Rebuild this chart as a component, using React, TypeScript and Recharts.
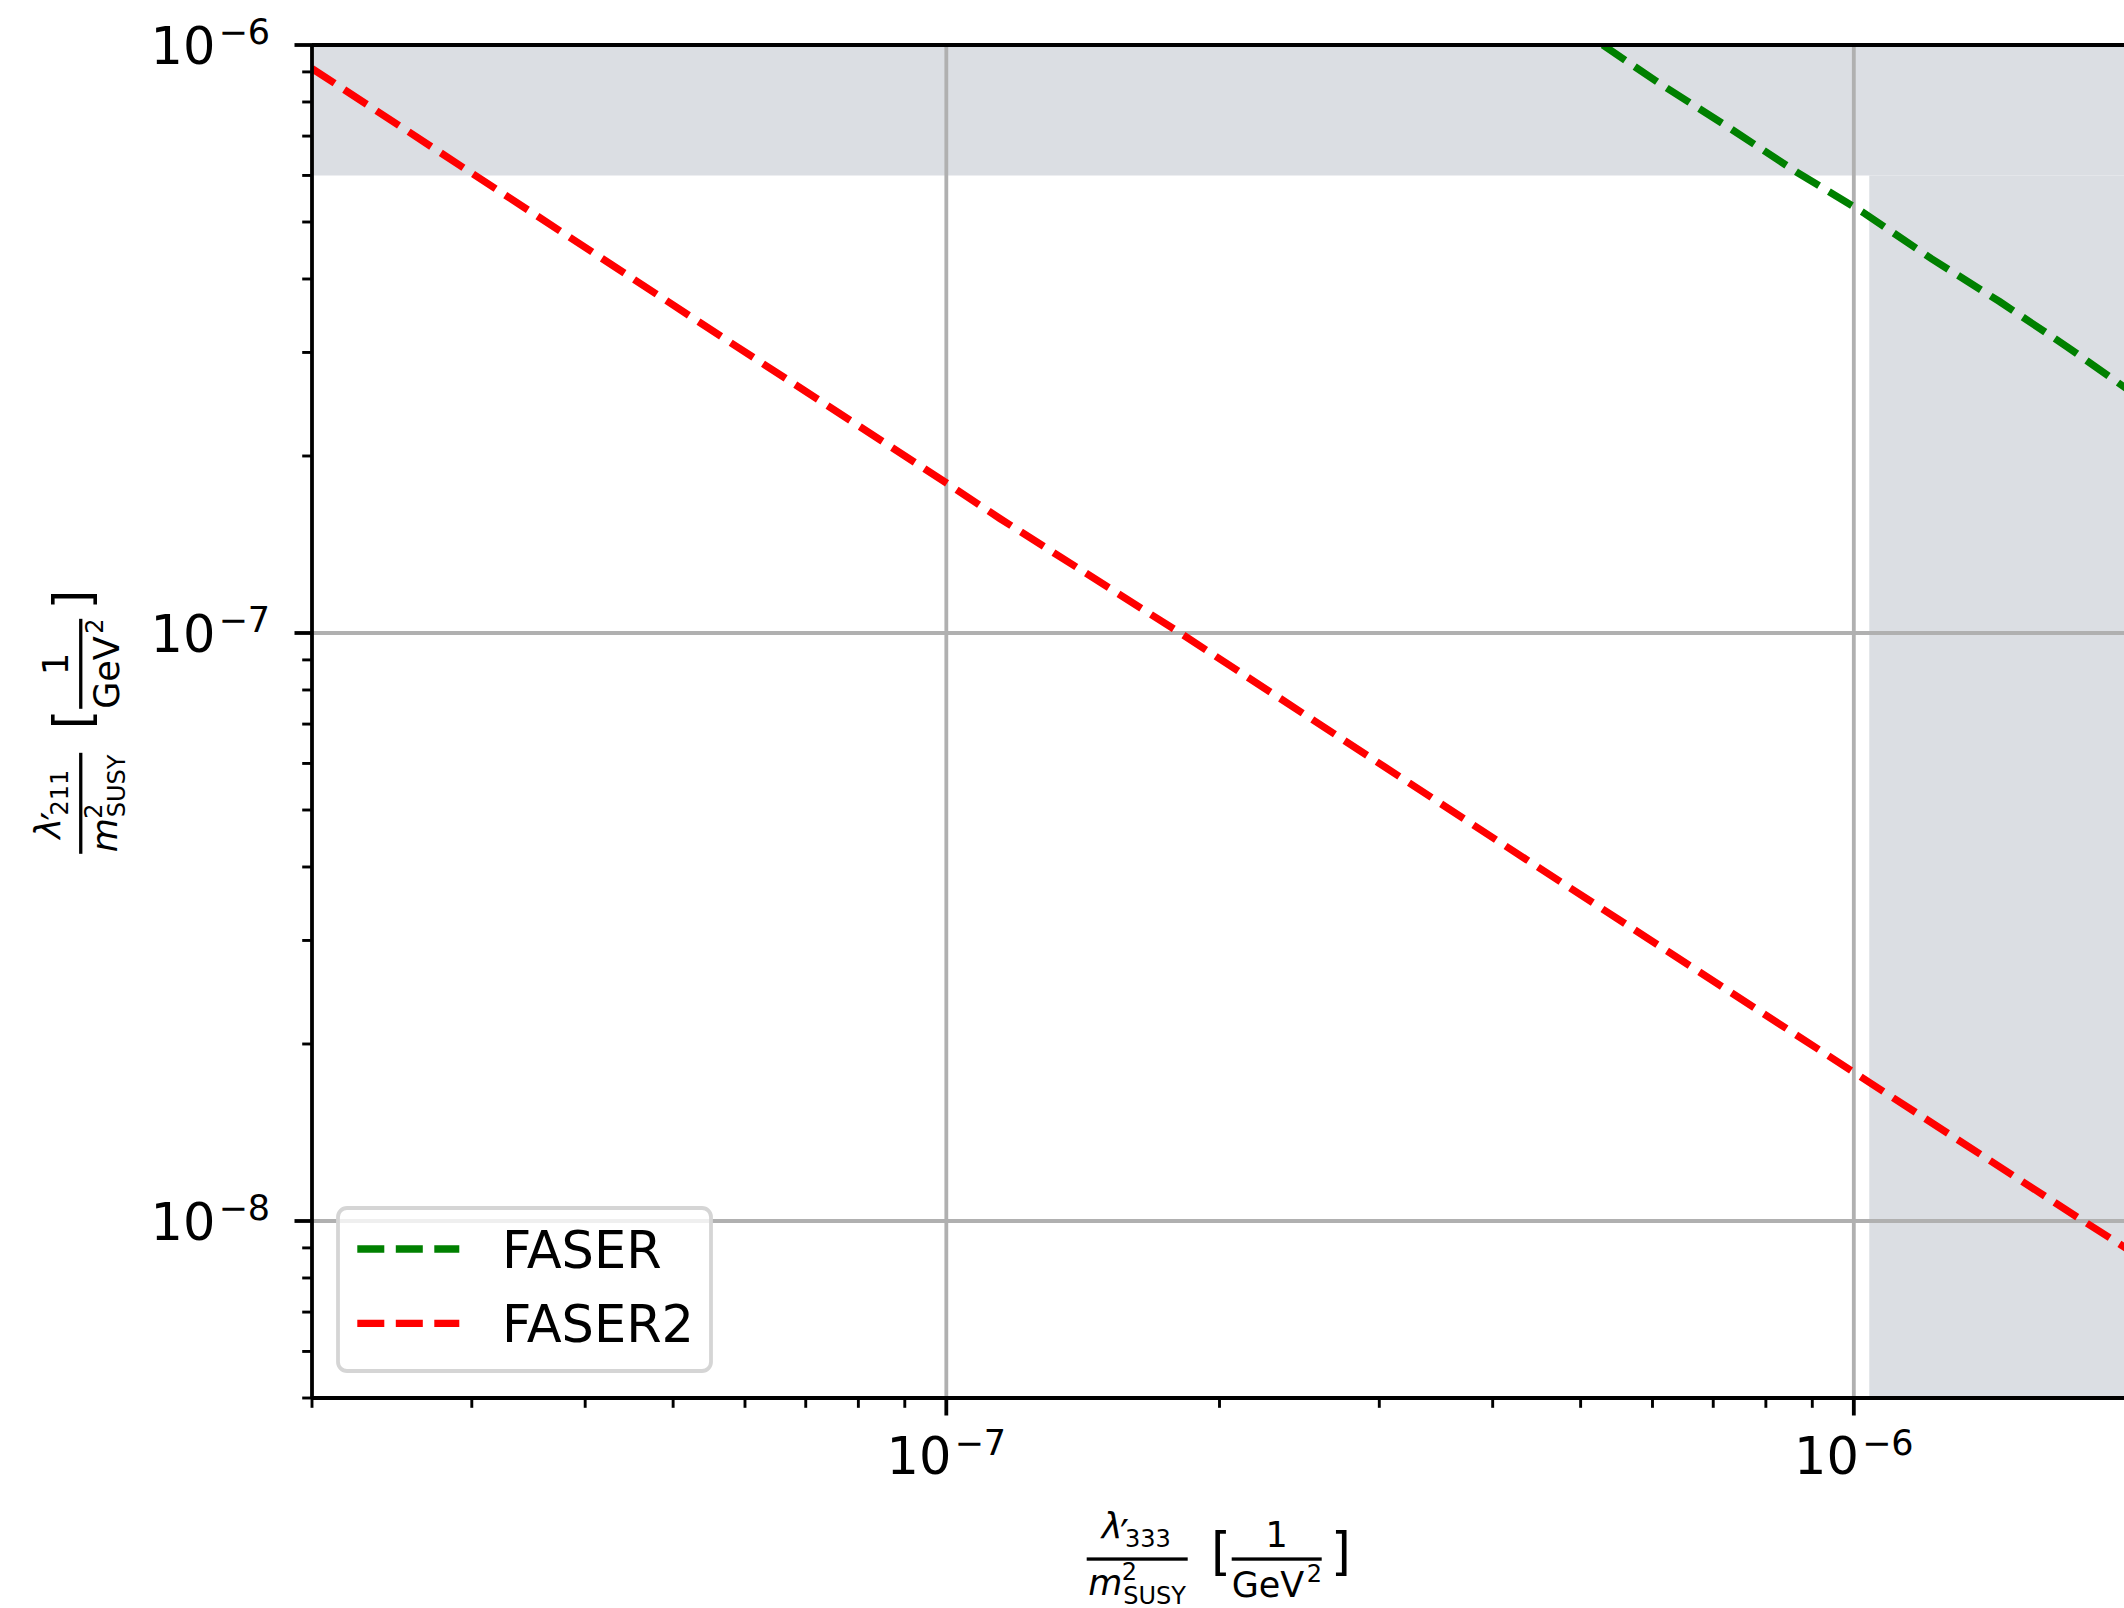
import React from 'react';
import { ComposedChart, Line, XAxis, YAxis, ReferenceArea, ReferenceLine } from 'recharts';

// FASER reach
const faserX = [5.29e-7, 6.11e-7, 7.27e-7, 8.65e-7, 1.028e-6, 1.218e-6, 1.448e-6, 1.722e-6, 2.0e-6];
const faserY = [1.0e-6, 8.6e-7, 7.25e-7, 6.08e-7, 5.17e-7, 4.33e-7, 3.66e-7, 3.06e-7, 2.6e-7];

// FASER2 reach
const faser2X = [2.0e-8, 5.69e-8, 1.0e-7, 1.146e-7, 1.81e-7, 4.07e-7, 1.0e-6, 1.79e-6, 2.0e-6];
const faser2Y = [9.12e-7, 3.17e-7, 1.8e-7, 1.565e-7, 1.0e-7, 4.41e-8, 1.79e-8, 1.0e-8, 8.97e-9];

const seriesNames = ['FASER', 'FASER2'];
const seriesColors = ['#008000', '#ff0000'];

// excluded regions
const excludedYmin = 6.0e-7;
const excludedXmin = 1.04e-6;

const xDomain = [2e-8, 2e-6];
const yDomain = [5e-9, 1e-6];

const xTicks = [
  2e-8, 3e-8, 4e-8, 5e-8, 6e-8, 7e-8, 8e-8, 9e-8,
  1e-7, 2e-7, 3e-7, 4e-7, 5e-7, 6e-7, 7e-7, 8e-7, 9e-7,
  1e-6,
];
const yTicks = [
  5e-9, 6e-9, 7e-9, 8e-9, 9e-9,
  1e-8, 2e-8, 3e-8, 4e-8, 5e-8, 6e-8, 7e-8, 8e-8, 9e-8,
  1e-7, 2e-7, 3e-7, 4e-7, 5e-7, 6e-7, 7e-7, 8e-7, 9e-7,
  1e-6,
];
const xGrid = [1e-7, 1e-6];
const yGrid = [1e-8, 1e-7];

const FONT = '"DejaVu Sans", sans-serif';
const GRID = '#b0b0b0';
const SHADE = '#dbdee3';
const LW = 7.3;
const DASH = '27 11.5';

const faserData = faserX.map((x, i) => ({ x, y: faserY[i] }));
const faser2Data = faser2X.map((x, i) => ({ x, y: faser2Y[i] }));

const isMajor = (v: number) => Math.abs(Math.log10(v) - Math.round(Math.log10(v))) < 1e-6;
const expOf = (v: number) => Math.round(Math.log10(v));

const XTick = (props: any) => {
  const { x, y, payload } = props;
  const v = payload.value;
  const major = isMajor(v);
  return (
    <g>
      <line x1={x} x2={x} y1={y} y2={y + (major ? 17.5 : 9.8)} stroke="#000" strokeWidth={major ? 3.8 : 2.9} />
      {major && (
        <text x={x} y={y + 76} textAnchor="middle" fontSize={51} fontFamily={FONT} fill="#000">
          10<tspan dx={3} dy={-19} fontSize={35}>{'\u2212' + Math.abs(expOf(v))}</tspan>
        </text>
      )}
    </g>
  );
};

const YTick = (props: any) => {
  const { x, y, payload } = props;
  const v = payload.value;
  const major = isMajor(v);
  return (
    <g>
      <line x1={x - (major ? 17.5 : 9.8)} x2={x} y1={y} y2={y} stroke="#000" strokeWidth={major ? 3.8 : 2.9} />
      {major && (
        <text x={x - 42} y={y + 18.6} textAnchor="end" fontSize={51} fontFamily={FONT} fill="#000">
          10<tspan dx={3} dy={-20} fontSize={35}>{'\u2212' + Math.abs(expOf(v))}</tspan>
        </text>
      )}
    </g>
  );
};

// axis label: lambda'_{sub} / m^2_SUSY [1/GeV^2], laid out around (0,0) = centre of the label on the fraction bar
const AxisLabel = ({ sub }: { sub: string }) => (
  <g fontFamily={FONT} fill="#000">
    <rect x={-128.3} y={-1.6} width={101} height={3.3} fill="#000" />
    <text x={-113.3} y={-21} fontSize={35} fontStyle="italic">λ</text>
    <text x={-95} y={-10} fontSize={40}>′</text>
    <text x={-90} y={-12.3} fontSize={24}>{sub}</text>
    <text x={-126.7} y={36} fontSize={35} fontStyle="italic">m</text>
    <text x={-93.3} y={21} fontSize={24}>2</text>
    <text x={-91.7} y={44.5} fontSize={24}>SUSY</text>
    <text x={-4} y={9.5} fontSize={51}>[</text>
    <rect x={16.7} y={-1.6} width={90} height={3.3} fill="#000" />
    <text x={61.7} y={-12.3} fontSize={35} textAnchor="middle">1</text>
    <text x={16.7} y={38} fontSize={35}>GeV</text>
    <text x={91.7} y={22.7} fontSize={24}>2</text>
    <text x={116} y={9.5} fontSize={51}>]</text>
  </g>
);

const LegendBox = () => (
  <g fontFamily={FONT}>
    <rect x={338} y={1208} width={373} height={163} rx={9} fill="#ffffff" fillOpacity={0.8} stroke="#d5d5d5" strokeWidth={3.8} />
    {seriesNames.map((name, i) => (
      <g key={name}>
        <line x1={357.3} x2={459.3} y1={1249 + i * 74.3} y2={1249 + i * 74.3} stroke={seriesColors[i]} strokeWidth={LW} strokeDasharray={DASH} />
        <text x={502} y={1267.7 + i * 74} fontSize={51} fill="#000">{name}</text>
      </g>
    ))}
  </g>
);

export default function App() {
  return (
    <div style={{ position: 'absolute', left: 0, top: 0, width: 2124, height: 1608, background: '#fff' }}>
      <ComposedChart width={2124} height={1608} margin={{ top: 45, right: -3, bottom: 0, left: 0 }}>
        <XAxis
          type="number"
          dataKey="x"
          scale="log"
          domain={xDomain}
          allowDataOverflow
          ticks={xTicks}
          interval={0}
          tick={<XTick />}
          tickLine={false}
          axisLine={false}
          tickSize={0}
          tickMargin={0}
          height={210}
        />
        <YAxis
          type="number"
          dataKey="y"
          scale="log"
          domain={yDomain}
          allowDataOverflow
          ticks={yTicks}
          interval={0}
          tick={<YTick />}
          tickLine={false}
          axisLine={false}
          tickSize={0}
          tickMargin={0}
          width={312}
        />
        <ReferenceArea x1={xDomain[0]} x2={xDomain[1]} y1={excludedYmin} y2={yDomain[1]} fill={SHADE} fillOpacity={1} stroke="none" />
        <ReferenceArea x1={excludedXmin} x2={xDomain[1]} y1={yDomain[0]} y2={excludedYmin} fill={SHADE} fillOpacity={1} stroke="none" />
        {xGrid.map((g) => (
          <ReferenceLine key={'gx' + g} x={g} stroke={GRID} strokeWidth={3.8} />
        ))}
        {yGrid.map((g) => (
          <ReferenceLine key={'gy' + g} y={g} stroke={GRID} strokeWidth={3.8} />
        ))}
        <Line data={faserData} dataKey="y" name={seriesNames[0]} type="linear" stroke={seriesColors[0]} strokeWidth={LW} strokeDasharray={DASH} dot={false} activeDot={false} isAnimationActive={false} />
        <Line data={faser2Data} dataKey="y" name={seriesNames[1]} type="linear" stroke={seriesColors[1]} strokeWidth={LW} strokeDasharray={DASH} dot={false} activeDot={false} isAnimationActive={false} />
        <ReferenceLine x={xDomain[0]} stroke="#000" strokeWidth={3.8} />
        <ReferenceLine y={yDomain[0]} stroke="#000" strokeWidth={3.8} />
        <ReferenceLine y={yDomain[1]} stroke="#000" strokeWidth={3.8} />
      </ComposedChart>
      <svg width={2124} height={1608} style={{ position: 'absolute', left: 0, top: 0, pointerEvents: 'none' }}>
        <g transform="translate(1215 1559)">
          <AxisLabel sub="333" />
        </g>
        <g transform="translate(80.7 725.5) rotate(-90)">
          <AxisLabel sub="211" />
        </g>
        <LegendBox />
      </svg>
    </div>
  );
}
